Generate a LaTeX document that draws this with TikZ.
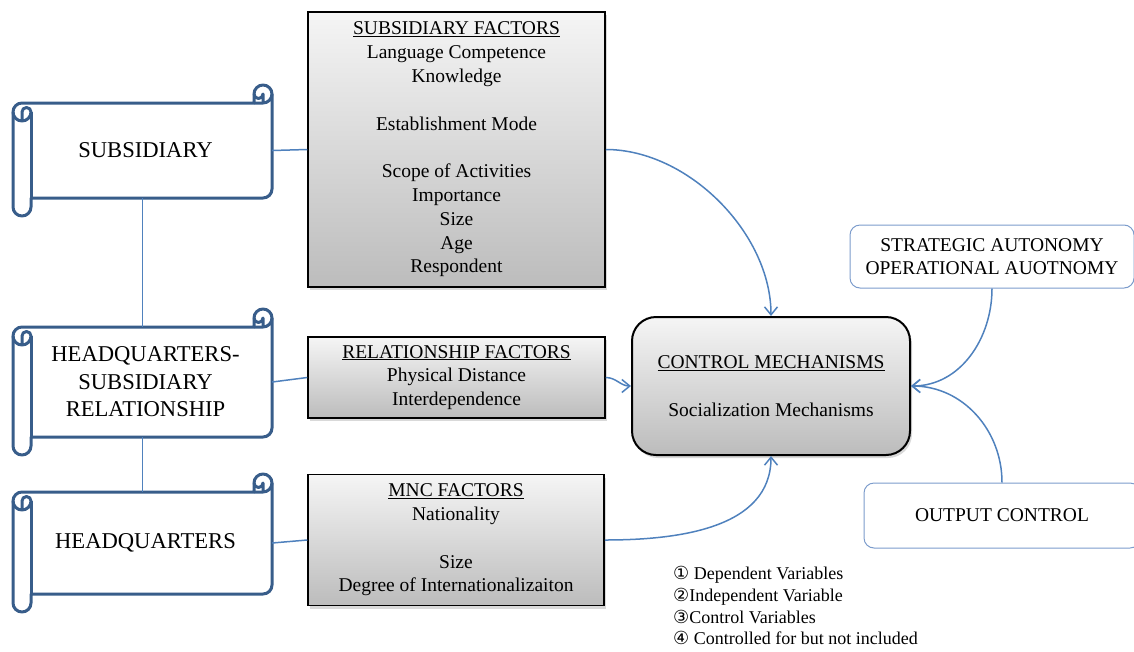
\documentclass[tikz,border=0pt]{standalone}
\usepackage{fontspec}
\setmainfont{Liberation Serif}
\newfontfamily\circfont{DejaVu Sans}[Scale=1.0]
\usetikzlibrary{arrows.meta,shadows}
\definecolor{scrollblue}{RGB}{56,93,138}
\definecolor{linkblue}{RGB}{79,129,189}
\definecolor{paleblue}{RGB}{124,156,204}
\definecolor{boxtop}{RGB}{245,245,245}
\definecolor{boxbot}{RGB}{188,188,188}
\tikzset{
  % outline of the scroll shapes
  scrollline/.style={draw=scrollblue,line width=3pt,line join=round},
  scrolltext/.style={align=center,inner sep=0pt,font=\fontsize{22.6}{27.5}\selectfont},
  % grey factor boxes
  factorbox/.style={draw=black,line width=1.5pt,top color=boxtop,bottom color=boxbot,
    align=center,inner sep=0pt,font=\fontsize{19.5}{23.8}\selectfont,
    drop shadow={shadow xshift=2pt,shadow yshift=-3pt,opacity=.3}},
  ctrlbox/.style={factorbox,rounded corners=24pt,line width=2pt},
  sidebox/.style={draw=paleblue,line width=1pt,rounded corners=10pt,fill=white,
    align=center,inner sep=0pt,font=\fontsize{19.5}{23}\selectfont},
  link/.style={draw=linkblue,line width=1.5pt},
  linkarrow/.style={link,-{Straight Barb[length=8pt,width=13pt]}},
}
% scroll: name, left, top, right, bottom, text
\newcommand{\scrollnode}[6]{%
  \draw[scrollline,fill=white] (#2,#3+27) arc[start angle=180,end angle=270,radius=9]
    -- (#4-18,#3+18) -- (#4-18,#3+9) arc[start angle=180,end angle=360,radius=9]
    -- (#4,#5-27) arc[start angle=0,end angle=90,radius=9]
    -- (#2+18,#5-18) -- (#2+18,#5-9) arc[start angle=0,end angle=180,radius=9] -- cycle;
  \draw[scrollline] (#4-18,#3+18) -- (#4-9,#3+18) arc[start angle=90,end angle=0,radius=9];
  \draw[scrollline] (#4-9,#3+18) -- (#4-9,#3+9) arc[start angle=0,end angle=180,radius=4.5];
  \draw[scrollline] (#2+9,#3+36) -- (#2+9,#3+27) arc[start angle=180,end angle=360,radius=4.5]
    arc[start angle=0,end angle=180,radius=9];
  \draw[scrollline] (#2+18,#3+27) -- (#2+18,#5-18);
  \node[scrolltext,minimum width={(#4-#2)*1pt},minimum height={(#5-#3-36)*1pt}]
    (#1) at ({(#2+#4)/2+3},{(#3+#5)/2}) {#6};
}

\begin{document}
\begin{tikzpicture}[x=1pt,y=-1pt]
\useasboundingbox (0,0) rectangle (1134,651);

\scrollnode{sub}{13}{85}{272}{216}{SUBSIDIARY}
\scrollnode{rel}{13}{309}{272}{455}{HEADQUARTERS-\\SUBSIDIARY\\RELATIONSHIP}
\scrollnode{hq}{13}{474}{272}{612}{HEADQUARTERS}

\node[factorbox,minimum width=297pt,minimum height=275pt] (subf) at (456.5,149.5)
  {\underline{SUBSIDIARY FACTORS}\\Language Competence\\Knowledge\\[23.8pt]Establishment Mode\\[23.8pt]Scope of Activities\\Importance\\Size\\Age\\Respondent};
\node[factorbox,minimum width=297pt,minimum height=81pt] (relf) at (456.5,377.5)
  {\underline{RELATIONSHIP FACTORS}\\Physical Distance\\Interdependence};
\node[factorbox,minimum width=296pt,minimum height=131pt] (mncf) at (456,540)
  {\underline{MNC FACTORS}\\Nationality\\[23.8pt]Size\\Degree of Internationalizaiton};
\node[ctrlbox,minimum width=278pt,minimum height=138pt] (ctrl) at (771,386)
  {\underline{CONTROL MECHANISMS}\\[23.8pt]Socialization Mechanisms};

\node[sidebox,minimum width=284pt,minimum height=63pt] (strat) at (992,256.5)
  {STRATEGIC AUTONOMY\\OPERATIONAL AUOTNOMY};
\node[sidebox,minimum width=276pt,minimum height=65pt] (outc) at (1002,515.5)
  {OUTPUT CONTROL};

\node[anchor=north west,inner sep=0pt,align=left,font=\fontsize{18}{21.8}\selectfont] (legend) at (673,566)
  {{\circfont ①} Dependent Variables\\{\circfont ②}Independent Variable\\{\circfont ③}Control Variables\\{\circfont ④} Controlled for but not included};

\draw[link] (sub.south) ++(-3,0) -- ([xshift=-3pt]rel.north);
\draw[link] ([xshift=-3pt]rel.south) -- ([xshift=-3pt]hq.north);
\draw[link] (sub.east) ++(-3,0) -- (subf.west);
\draw[link] ([xshift=-3pt]rel.east) -- (relf.west);
\draw[link] ([xshift=-3pt]hq.east) -- (mncf.west);

\draw[linkarrow] (subf.east) to[out=0,in=90,looseness=.9] (ctrl.north);
\draw[linkarrow] (relf.east) to[out=0,in=180] (ctrl.west);
\draw[linkarrow] (mncf.east) to[out=0,in=-90] (ctrl.south);
\draw[linkarrow] (strat.south) to[out=-90,in=0] (ctrl.east);
\draw[linkarrow] (outc.north) to[out=90,in=0] (ctrl.east);
\end{tikzpicture}
\end{document}
